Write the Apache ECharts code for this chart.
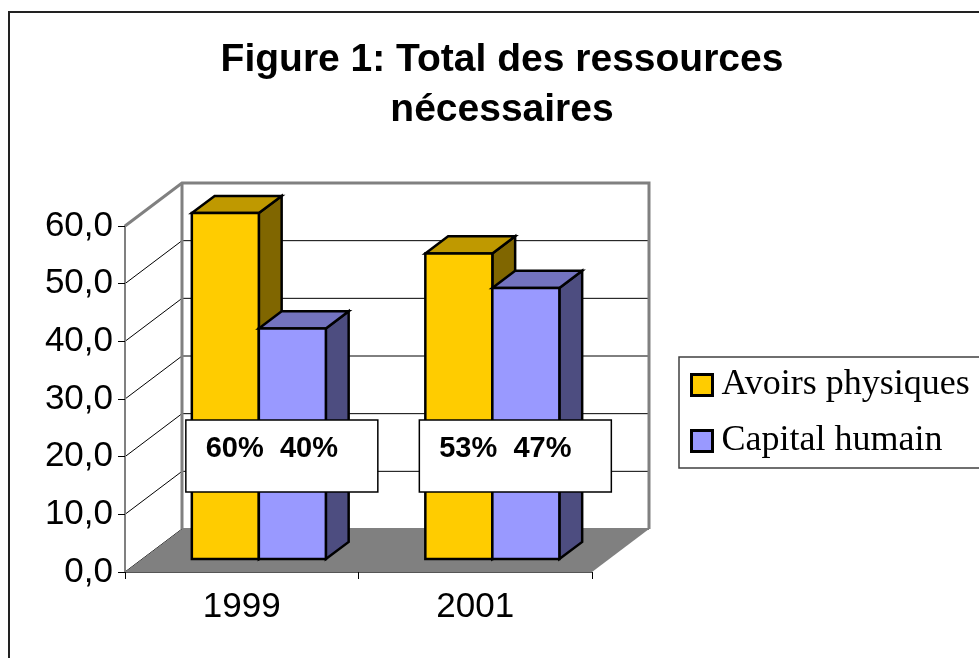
<!DOCTYPE html>
<html>
<head>
<meta charset="utf-8">
<title>Figure 1: Total des ressources nécessaires</title>
<script src="https://cdn.jsdelivr.net/npm/echarts@6/dist/echarts.min.js"></script>
<style>
html, body { margin: 0; padding: 0; background: #fff; }
#chart { width: 979px; height: 658px; }
</style>
</head>
<body>
<div id="chart"></div>
<script>
const years = ['1999', '2001']
const avoirsPhysiques = [60, 53]
const capitalHumain = [40, 47]
const seriesNames = ['Avoirs physiques', 'Capital humain']
const yMin = 0, yMax = 60, yStep = 10

const sans = "'Liberation Sans', Arial, sans-serif"
const serif = "'Liberation Serif', 'Times New Roman', serif"

// faux 3D like the old Excel chart: full depth offset, bars sit between F0 and F1
const DX = 57, DY = -43
const F0 = 0.3, F1 = 0.7
const BAR = 0.287 // part of one category band for each bar

const palette = [
  { front: '#FFCC00', top: '#BF9900', side: '#806600' },
  { front: '#9999FF', top: '#7373BF', side: '#4D4D80' },
]

function walls(params, api) {
  const cs = params.coordSys
  const x0 = cs.x, x1 = cs.x + cs.width, yt = cs.y, yb = cs.y + cs.height
  const kids = []
  kids.push({ type: 'polygon', shape: { points: [[x0, yb], [x0, yt], [x0 + DX, yt + DY], [x0 + DX, yb + DY]] }, style: { fill: '#fff' } })
  kids.push({ type: 'rect', shape: { x: x0 + DX, y: yt + DY, width: cs.width, height: cs.height }, style: { fill: '#fff' } })
  for (let v = yMin; v <= yMax; v += yStep) {
    const y = api.coord([0, v])[1]
    kids.push({ type: 'polyline', shape: { points: [[x0, y], [x0 + DX, y + DY], [x1 + DX, y + DY]] }, style: { stroke: '#000', lineWidth: 1, fill: null } })
  }
  // wall edges
  kids.push({ type: 'polyline', shape: { points: [[x0, yt], [x0 + DX, yt + DY], [x1 + DX, yt + DY], [x1 + DX, yb + DY]] }, style: { stroke: '#808080', lineWidth: 3, fill: null } })
  kids.push({ type: 'line', shape: { x1: x0 + DX, y1: yt + DY, x2: x0 + DX, y2: yb + DY }, style: { stroke: '#808080', lineWidth: 3 } })
  // floor
  kids.push({ type: 'polygon', shape: { points: [[x0, yb], [x1, yb], [x1 + DX, yb + DY], [x0 + DX, yb + DY]] }, style: { fill: '#808080' } })
  return { type: 'group', children: kids }
}

function bar3d(s) {
  return function (params, api) {
    const i = api.value(0), v = api.value(1)
    const w = api.size([1, 0])[0] * BAR
    const c = api.coord([i, v]), base = api.coord([i, 0])
    const x = c[0] - w + s * w + DX * F0
    const yt = c[1] + DY * F0, yb = base[1] + DY * F0
    const dx = DX * (F1 - F0), dy = DY * (F1 - F0)
    const col = palette[s]
    const line = { stroke: '#000', lineWidth: 2.5, lineJoin: 'miter' }
    return {
      type: 'group',
      children: [
        { type: 'polygon', shape: { points: [[x + w, yt], [x + w + dx, yt + dy], [x + w + dx, yb + dy], [x + w, yb]] }, style: Object.assign({ fill: col.side }, line) },
        { type: 'polygon', shape: { points: [[x, yt], [x + w, yt], [x + w + dx, yt + dy], [x + dx, yt + dy]] }, style: Object.assign({ fill: col.top }, line) },
        { type: 'rect', shape: { x: x, y: yt, width: w, height: yb - yt }, style: Object.assign({ fill: col.front }, line) },
      ],
    }
  }
}

function shareLabel(params, api) {
  const i = api.value(0), a = api.value(1), b = api.value(2)
  const w = api.size([1, 0])[0] * BAR
  const base = api.coord([i, 0])
  const x = base[0] - w + DX * F0 - 6
  const y = base[1] - 152
  const txt = Math.round(a / (a + b) * 100) + '%  ' + Math.round(b / (a + b) * 100) + '%'
  return {
    type: 'group',
    children: [
      { type: 'rect', shape: { x: x, y: y, width: 192, height: 72 }, style: { fill: '#fff', stroke: '#000', lineWidth: 1.5 } },
      { type: 'text', style: { x: x + 86, y: y + 29, text: txt, fontFamily: sans, fontWeight: 'bold', fontSize: 29, fill: '#000', align: 'center', verticalAlign: 'middle' } },
    ],
  }
}

const chart = echarts.init(document.getElementById('chart'))
chart.setOption({
  animation: false,
  backgroundColor: '#fff',
  grid: { left: 125, top: 226, width: 467, height: 346 },
  xAxis: {
    type: 'category', data: years, z: 5,
    axisLine: { lineStyle: { color: '#555', width: 1 } },
    axisTick: { show: true, alignWithLabel: false, length: 7, lineStyle: { color: '#000' } },
    axisLabel: { color: '#000', fontFamily: sans, fontSize: 35, margin: 18 },
    splitLine: { show: false },
  },
  yAxis: {
    type: 'value', min: yMin, max: yMax, interval: yStep, z: 5,
    axisLine: { show: true, lineStyle: { color: '#808080', width: 2 } },
    axisTick: { show: true, length: 7, lineStyle: { color: '#000' } },
    axisLabel: { color: '#000', fontFamily: sans, fontSize: 35, margin: 12, formatter: v => v.toFixed(1).replace('.', ',') },
    splitLine: { show: false },
  },
  legend: {
    data: seriesNames,
    orient: 'vertical', left: 679, top: 357,
    padding: [10, 24, 9, 11],
    itemWidth: 21, itemHeight: 21, itemGap: 20,
    icon: 'rect',
    itemStyle: { borderColor: '#000', borderWidth: 3 },
    textStyle: { fontFamily: serif, fontSize: 36, lineHeight: 34, color: '#000', padding: [0, 0, 0, 4] },
    backgroundColor: '#fff', borderColor: '#404040', borderWidth: 1.5,
  },
  graphic: [
    { type: 'rect', shape: { x: 9, y: 12, width: 1000, height: 700 }, style: { fill: null, stroke: '#222', lineWidth: 2 }, z: 10 },
    { type: 'text', x: 502, y: 35, style: { text: 'Figure 1: Total des ressources\nnécessaires', fontFamily: sans, fontWeight: 'bold', fontSize: 39, lineHeight: 50, fill: '#000', align: 'center' } },
  ],
  series: [
    { type: 'custom', z: 1, silent: true, renderItem: walls, data: [[0, 0]], encode: { x: 0, y: 1 } },
    { type: 'custom', name: seriesNames[0], z: 2, itemStyle: { color: palette[0].front }, renderItem: bar3d(0), data: years.map((y, i) => [i, avoirsPhysiques[i]]), encode: { x: 0, y: 1 } },
    { type: 'custom', name: seriesNames[1], z: 2, itemStyle: { color: palette[1].front }, renderItem: bar3d(1), data: years.map((y, i) => [i, capitalHumain[i]]), encode: { x: 0, y: 1 } },
    { type: 'custom', z: 3, silent: true, renderItem: shareLabel, data: years.map((y, i) => [i, avoirsPhysiques[i], capitalHumain[i]]), encode: { x: 0, y: 1 } },
  ],
})
</script>
</body>
</html>
